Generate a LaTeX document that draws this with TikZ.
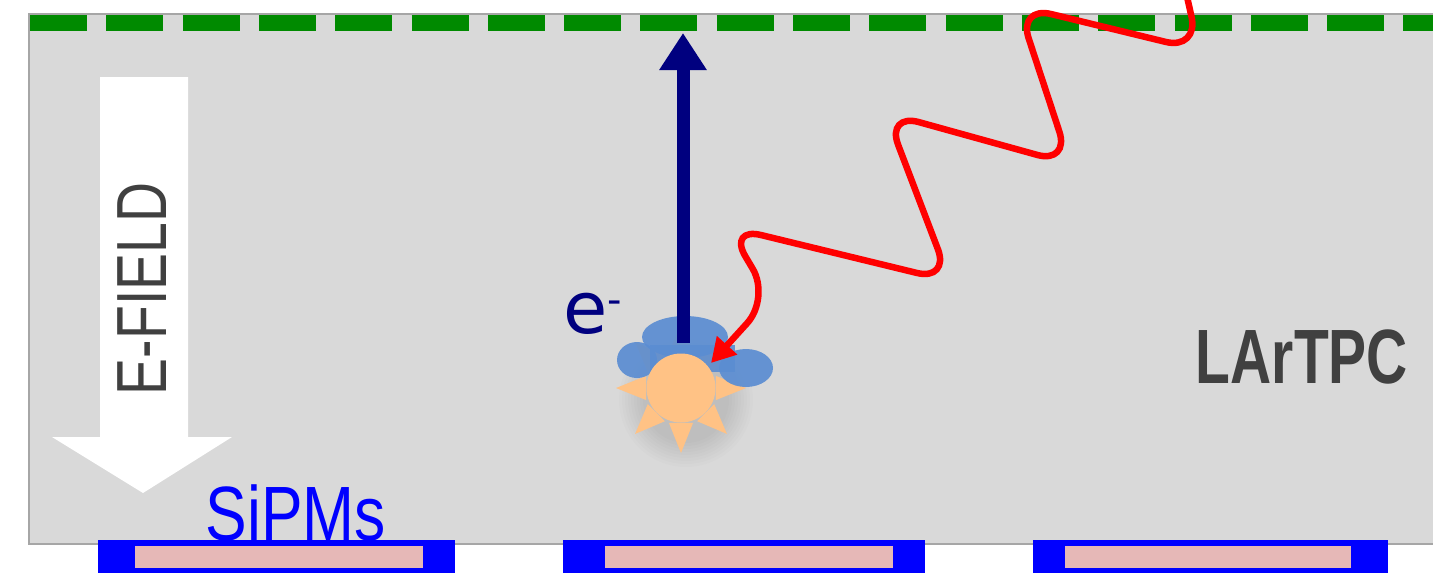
\documentclass[tikz,border=0pt]{standalone}
\usepackage{fontspec}
\setmainfont{Liberation Sans}
\newfontfamily\dejavu{DejaVu Sans}
\usetikzlibrary{arrows.meta}

\definecolor{tpcgray}{HTML}{D9D9D9}
\definecolor{tpcedge}{HTML}{A6A6A6}
\definecolor{anodegreen}{HTML}{008A00}
\definecolor{driftnavy}{HTML}{00007F}
\definecolor{sunfill}{HTML}{FFC285}
\definecolor{cloudblue}{HTML}{5B8DD2}
\definecolor{labelgray}{HTML}{404040}
\definecolor{sipmpink}{HTML}{E6B8B7}

\begin{document}
\begin{tikzpicture}[x=1pt,y=-1pt,
  tpc/.style={fill=tpcgray,draw=tpcedge,line width=2pt},
  anodeplane/.style={draw=anodegreen,line width=16pt,dash pattern=on 57pt off 19.3pt},
  fieldarrow/.style={fill=white},
  drift/.style={draw=driftnavy,line width=13pt,-{Triangle[length=37pt,width=45pt]}},
  photon/.style={draw=red,line width=6.5pt,rounded corners=34pt,-{Triangle[length=24pt,width=26pt]}},
  sipmbody/.style={fill=blue,inner sep=0pt,minimum height=33pt},
  sipmface/.style={fill=sipmpink,inner sep=0pt,minimum height=22pt},
  lbl/.style={inner sep=0pt,outer sep=0pt}]
\useasboundingbox (0,0) rectangle (1433,576);
\clip (0,0) rectangle (1433,576);

% liquid argon volume
\path[tpc] (29,14) rectangle (1450,544);
% anode wire plane
\draw[anodeplane] (30,23) -- (1440,23);

% drift field arrow with its label
\fill[fieldarrow] (100,77) -- (188,77) -- (188,437) -- (232,437) -- (143,493)
  -- (52,437) -- (100,437) -- cycle;
\node[lbl,rotate=90,text=labelgray] (efield) at (142.5,289)
  {\scalebox{0.78}[1]{\fontsize{71}{71}\selectfont E-FIELD}};

% interaction vertex: ionisation cloud and scintillation flash
\node[circle,minimum size=68pt,inner sep=0pt] (sun) at (681,388) {};
\begin{scope}[shift={(sun.center)}]
  % soft shadow of the flash
  \foreach \k in {1,...,9}{
    \fill[black,opacity=0.011] (5,12) circle ({40+3*\k});
  }
  \begin{scope}[fill=sunfill]
    \foreach \a in {0,45,...,315}
      \fill (\a-19:37) -- (\a:65) -- (\a+19:37) -- cycle;
  \end{scope}
\end{scope}
\begin{scope}[fill=cloudblue,opacity=0.92]
  \fill (685,337) ellipse (43 and 21);
  \fill (637,360) ellipse (20 and 18);
  \fill (746,368) ellipse (27 and 19);
  \fill (650,345) rectangle (735,372);
\end{scope}
\fill[sunfill] (sun.center) circle (34.5);

% drifting electron
\coordinate (vtx) at (683,343);
\coordinate (anode) at (683,33);
\draw[drift] (vtx) -- (anode);
\node[lbl,anchor=base west,text=driftnavy] (elec) at (563,333)
  {\dejavu\fontsize{72}{72}\selectfont e\raisebox{20pt}{\fontsize{40}{40}\selectfont -}};

% incoming photon
\coordinate (gin) at (1181,-30);
\coordinate (hit) at (711,363);
\draw[photon] (gin) -- (1199,50) -- (1018,6) -- (1070,164) -- (886,113)
  -- (950,281) -- (728,227) -- (770,298) -- (hit);

% detector labels
\node[lbl,text=labelgray] (tpclabel) at (1302,357)
  {\scalebox{0.74}[1]{\fontsize{77}{77}\selectfont\bfseries LArTPC}};
\node[lbl,text=blue] (sipmlabel) at (296,513)
  {\scalebox{0.81}[1]{\fontsize{77}{77}\selectfont SiPMs}};

% photosensor tiles
\node[sipmbody,minimum width=357pt] (s1) at (276.5,556.5) {};
\node[sipmface,minimum width=288pt] (f1) at (279,557) {};
\node[sipmbody,minimum width=362pt] (s2) at (744,556.5) {};
\node[sipmface,minimum width=288pt] (f2) at (749,557) {};
\node[sipmbody,minimum width=355pt] (s3) at (1210.5,556.5) {};
\node[sipmface,minimum width=286pt] (f3) at (1208,557) {};
\end{tikzpicture}
\end{document}
